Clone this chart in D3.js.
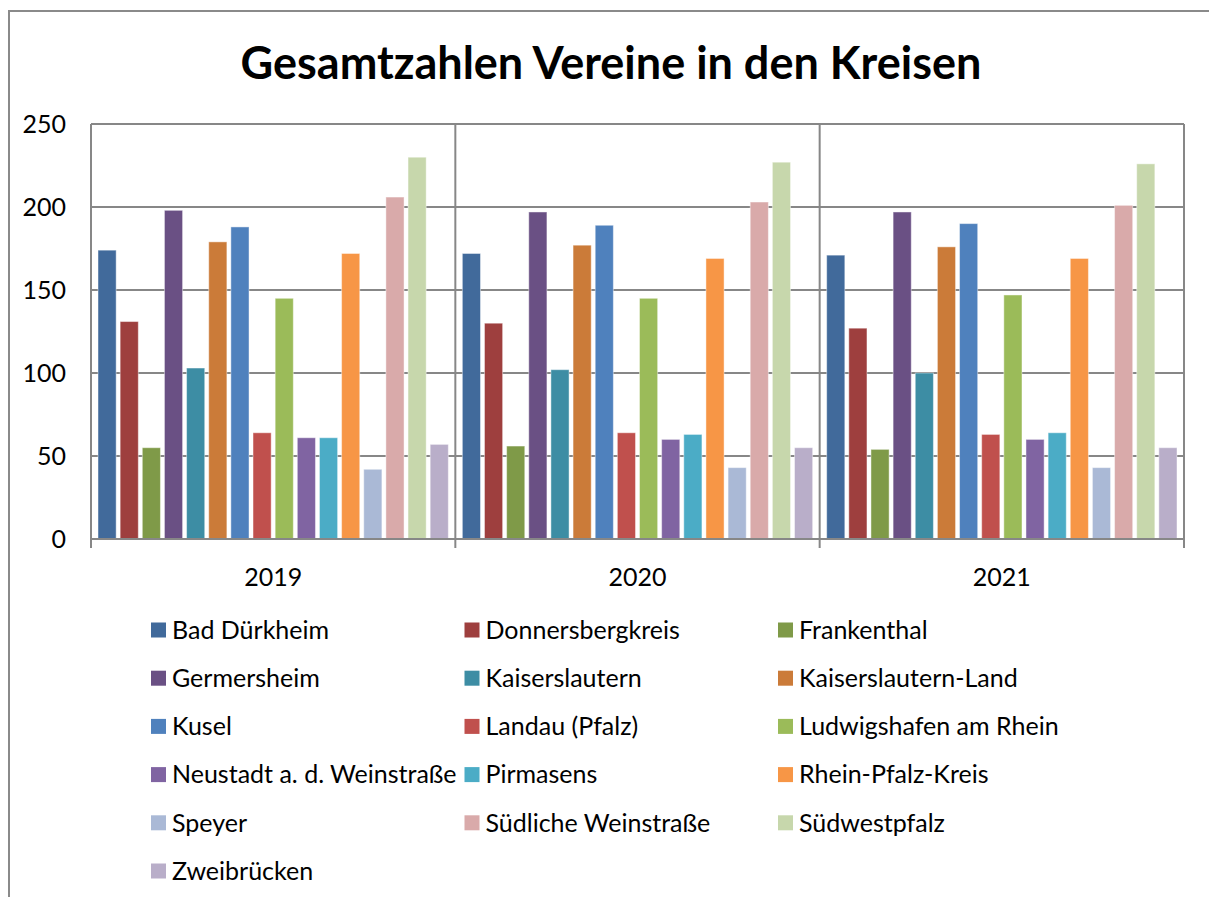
<!DOCTYPE html>
<html>
<head>
<meta charset="utf-8">
<script src="https://cdn.jsdelivr.net/npm/d3@7"></script>
<style>
  html, body { margin: 0; padding: 0; background: #fff; }
  svg { display: block; font-family: Lato, "Liberation Sans", sans-serif; }
</style>
</head>
<body>
<svg></svg>
<script>
var W = 1209, H = 897;

var years = ['2019', '2020', '2021'];
var kreise = ['Bad Dürkheim', 'Donnersbergkreis', 'Frankenthal', 'Germersheim',
  'Kaiserslautern', 'Kaiserslautern-Land', 'Kusel', 'Landau (Pfalz)',
  'Ludwigshafen am Rhein', 'Neustadt a. d. Weinstraße', 'Pirmasens',
  'Rhein-Pfalz-Kreis', 'Speyer', 'Südliche Weinstraße', 'Südwestpfalz', 'Zweibrücken'];
var farben = ['#416a9b', '#9e3f3e', '#7f9a48', '#6a5084', '#3d8da4', '#cb7b39',
  '#4f81bd', '#c0504d', '#9bbb59', '#8064a2', '#4bacc6', '#f79646',
  '#aab9d6', '#d9aaaa', '#c7d7ac', '#b9aec9'];
var werte2019 = [174, 131, 55, 198, 103, 179, 188, 64, 145, 61, 61, 172, 42, 206, 230, 57];
var werte2020 = [172, 130, 56, 197, 102, 177, 189, 64, 145, 60, 63, 169, 43, 203, 227, 55];
var werte2021 = [171, 127, 54, 197, 100, 176, 190, 63, 147, 60, 64, 169, 43, 201, 226, 55];
var yTicks = [0, 50, 100, 150, 200, 250];

var werte = [werte2019, werte2020, werte2021];

var svg = d3.select('svg')
    .attr('width', W)
    .attr('height', H);

// chart frame (runs off the right and bottom edge)
svg.append('rect')
    .attr('x', 9).attr('y', 11)
    .attr('width', W + 20).attr('height', H + 20)
    .attr('fill', '#fff')
    .attr('stroke', '#8a8a8a')
    .attr('stroke-width', 2);

svg.append('text')
    .attr('x', 611)
    .attr('y', 79)
    .attr('text-anchor', 'middle')
    .style('font-size', '45px')
    .style('font-weight', 'bold')
    .text('Gesamtzahlen Vereine in den Kreisen');

var pLeft = 91, pRight = 1184, pTop = 124, pBottom = 539;

var y = d3.scaleLinear().domain([0, 250]).range([pBottom, pTop]);
var x0 = d3.scaleBand().domain(years).range([pLeft, pRight]).padding(0);
var x1 = d3.scaleBand().domain(kreise)
    .range([7, x0.bandwidth() - 7])
    .paddingInner(0.18)
    .paddingOuter(0);

// gridlines
svg.append('g')
  .selectAll('line')
  .data(yTicks.slice(1))
  .join('line')
    .attr('x1', pLeft).attr('x2', pRight)
    .attr('y1', function (d) { return y(d); })
    .attr('y2', function (d) { return y(d); })
    .attr('stroke', '#878787')
    .attr('stroke-width', 2);

// bars
var groups = svg.append('g')
  .selectAll('g')
  .data(years)
  .join('g')
    .attr('transform', function (d) { return 'translate(' + x0(d) + ',0)'; });

groups.selectAll('rect')
  .data(function (d, i) {
    return kreise.map(function (k, j) { return { k: k, v: werte[i][j], c: farben[j] }; });
  })
  .join('rect')
    .attr('x', function (d) { return x1(d.k); })
    .attr('y', function (d) { return y(d.v); })
    .attr('width', x1.bandwidth())
    .attr('height', function (d) { return y(0) - y(d.v); })
    .attr('fill', function (d) { return d.c; })
    .attr('stroke', 'rgba(255,255,255,0.45)')
    .attr('stroke-width', 1);

// plot border, group separators
svg.append('g')
  .selectAll('line')
  .data(years.slice(1))
  .join('line')
    .attr('x1', function (d) { return x0(d); })
    .attr('x2', function (d) { return x0(d); })
    .attr('y1', pTop).attr('y2', pBottom + 9)
    .attr('stroke', '#878787')
    .attr('stroke-width', 2);

svg.append('line')
    .attr('x1', pRight).attr('x2', pRight)
    .attr('y1', pTop).attr('y2', pBottom + 9)
    .attr('stroke', '#878787').attr('stroke-width', 2);
svg.append('line')
    .attr('x1', pLeft).attr('x2', pLeft)
    .attr('y1', pTop).attr('y2', pBottom + 9)
    .attr('stroke', '#878787').attr('stroke-width', 2);
svg.append('line')
    .attr('x1', pLeft).attr('x2', pRight)
    .attr('y1', pBottom).attr('y2', pBottom)
    .attr('stroke', '#878787').attr('stroke-width', 2);

// y labels
svg.append('g')
  .selectAll('text')
  .data(yTicks)
  .join('text')
    .attr('x', 66)
    .attr('y', function (d) { return y(d); })
    .attr('dy', '0.35em')
    .attr('text-anchor', 'end')
    .style('font-size', '25px')
    .text(function (d) { return d; });

// x labels
svg.append('g')
  .selectAll('text')
  .data(years)
  .join('text')
    .attr('x', function (d) { return x0(d) + x0.bandwidth() / 2; })
    .attr('y', 577)
    .attr('dy', '0.35em')
    .attr('text-anchor', 'middle')
    .style('font-size', '25px')
    .text(function (d) { return d; });

// legend
var legend = svg.append('g')
  .selectAll('g')
  .data(kreise)
  .join('g')
    .attr('transform', function (d, i) {
      return 'translate(' + (151 + (i % 3) * 313.5) + ',' + (630 + Math.floor(i / 3) * 48.2) + ')';
    });

legend.append('rect')
    .attr('x', 0).attr('y', -7.5)
    .attr('width', 15).attr('height', 15)
    .attr('fill', function (d, i) { return farben[i]; });

legend.append('text')
    .attr('x', 21)
    .attr('dy', '0.35em')
    .style('font-size', '25px')
    .text(function (d) { return d; });
</script>
</body>
</html>
